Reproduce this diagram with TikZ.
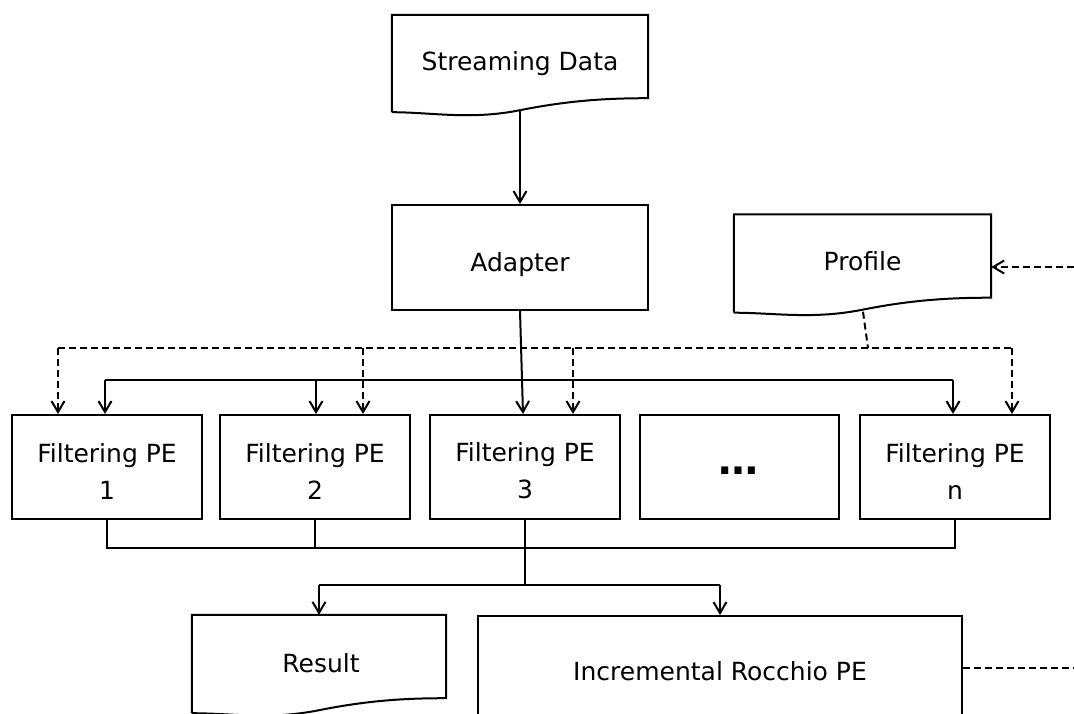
\documentclass[tikz,border=0pt]{standalone}
\usepackage{fontspec}
\setmainfont{DejaVu Sans}
\usetikzlibrary{arrows.meta,calc}
\begin{document}
\begin{tikzpicture}[x=1pt,y=-1pt,
  every node/.style={font=\fontsize{25}{37}\selectfont, inner sep=0pt},
  one/.style={text height=28pt, text depth=0pt},
  box/.style={draw, line width=2pt, minimum width=#1, minimum height=104, align=center},
  doc/.style={minimum width=#1, minimum height=83, align=center, one},
  lbl/.style={align=center},
  ln/.style={line width=2pt},
  arr/.style={ln, -{Straight Barb[length=11pt,width=13pt,line width=2pt]}},
  dsh/.style={line width=2pt, dash pattern=on 7pt off 4pt},
  darr/.style={dsh, -{Straight Barb[length=11pt,width=13pt,line width=2pt]}}
]
\useasboundingbox (0,0) rectangle (1074,713);
\clip (0,0) rectangle (1074,713);
\fill[white] (0,0) rectangle (1074,713);

% document shaped nodes
\node[doc=256] (sd) at (520,56.5) {Streaming Data};
\draw[ln] ($(sd.south west)+(0,14)$) -- (sd.north west) -- (sd.north east) -- (sd.south east)
  .. controls +(-40,0) and +(50,-10) .. ($(sd.south)+(0,12)$)
  .. controls +(-50,10) and +(40,0) .. ($(sd.south west)+(0,14)$);

\node[doc=257] (pr) at (862.5,256) {Profile};
\draw[ln] ($(pr.south west)+(0,15)$) -- (pr.north west) -- (pr.north east) -- (pr.south east)
  .. controls +(-40,0) and +(50,-10) .. ($(pr.south)+(0,12)$)
  .. controls +(-50,10) and +(40,0) .. ($(pr.south west)+(0,15)$);

\node[box=256, minimum height=105, one] (ad) at (520,257.5) {Adapter};

% filtering PEs
\node[box=190] (f1) at (107,467) {};
\node[box=190] (f2) at (315,467) {};
\node[box=190] (f3) at (525,467) {};
\node[box=199] (f4) at (739.5,467) {};
\node[box=190] (f5) at (955,467) {};
\node[lbl] (t1) at ($(f1.center)+(0,4)$) {Filtering PE\\1};
\node[lbl] (t2) at ($(f2.center)+(0,4)$) {Filtering PE\\2};
\node[lbl] (t3) at ($(f3.center)+(0,4)$) {Filtering PE\\3};
\node[anchor=base, font=\fontsize{40}{40}\selectfont\bfseries] (t4) at (738,474) {…};
\node[lbl] (t5) at ($(f5.center)+(0,4)$) {Filtering PE\\n};

% bottom elements
\node[doc=254] (res) at (319,656.5) {};
\node[one] (rest) at (321,658) {Result};
\draw[ln] ($(res.south west)+(0,15)$) -- (res.north west) -- (res.north east) -- (res.south east)
  .. controls +(-40,0) and +(50,-10) .. ($(res.south)+(0,12)$)
  .. controls +(-50,10) and +(40,0) .. ($(res.south west)+(0,15)$);

\node[box=484, minimum height=110, anchor=north] (rp) at (720,615) {Incremental Rocchio PE};

% streaming -> adapter
\draw[arr] ($(sd.south)+(0,12)$) -- (ad.north);

% profile feedback
\coordinate (pin) at (1074,267);
\draw[darr] (pin) -- (pr.east |- pin);
\coordinate (rout) at (1074,668);
\draw[dsh] (rp.east |- rout) -- (rout);

% profile dashed bus
\coordinate (db) at (868,348);
\draw[dsh] ($(pr.south)+(0.5,14)$) -- (db);
\draw[dsh] (58,348) -- (1012,348);
\draw[darr] (58,348) -- (f1.north -| 58,0);
\draw[darr] (363,348) -- (f2.north -| 363,0);
\draw[darr] (573,348) -- (f3.north -| 573,0);
\draw[darr] (1012,348) -- (f5.north -| 1012,0);

% adapter solid bus
\draw[ln] (105,380) -- (953,380);
\draw[arr] (105,380) -- (f1.north -| 105,0);
\draw[arr] (316,380) -- (f2.north -| 316,0);
\draw[arr] (953,380) -- (f5.north -| 953,0);
\draw[arr] (ad.south) -- ($(f3.north)+(-2,0)$);

% output bus
\coordinate (ob) at (525,548);
\draw[ln] (f1.south) -- (f1.south |- ob) -- (f5.south |- ob) -- (f5.south);
\draw[ln] (f2.south) -- (f2.south |- ob);
\draw[ln] (f3.south) -- (f3.south |- ob) -- (525,585);
\coordinate (ob2) at (525,585);
\draw[ln] (res.north |- ob2) -- (rp.north |- ob2);
\draw[arr] (res.north |- ob2) -- (res.north);
\draw[arr] (rp.north |- ob2) -- (rp.north);
\end{tikzpicture}
\end{document}
